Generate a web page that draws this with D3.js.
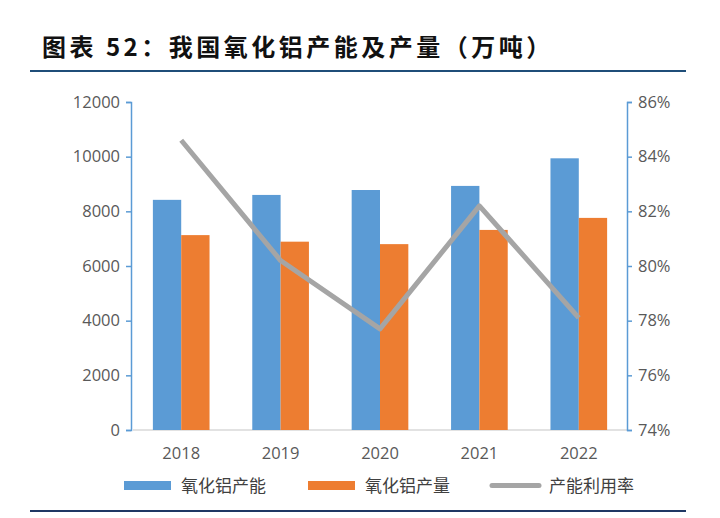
<!DOCTYPE html>
<html><head><meta charset="utf-8">
<script src="https://cdn.jsdelivr.net/npm/d3@7"></script>
<style>body{margin:0;background:#fff}svg{display:block}</style>
</head><body>
<svg id="c" width="720" height="518"></svg>
<script>
const years = ["2018","2019","2020","2021","2022"];
const capacity = [8420, 8600, 8780, 8930, 9940];
const output = [7130, 6890, 6800, 7320, 7760];
const utilization = [84.6, 80.2, 77.7, 82.2, 78.1];
const leftTicks = [0,2000,4000,6000,8000,10000,12000];
const rightTicks = [74,76,78,80,82,84,86];
const seriesNames = ["氧化铝产能","氧化铝产量","产能利用率"];
const colors = ["#5b9bd5","#ed7d31","#a5a5a5"];

const svg = d3.select("#c");
const font = "'Noto Sans CJK SC', 'Noto Sans', sans-serif";
const m = {l:133, r:627, t:102, b:430};

svg.append("text").attr("x",42).attr("y",56).attr("font-family",font)
  .attr("font-weight","bold").attr("font-size",24).attr("letter-spacing",3.5).attr("fill","#111")
  .text("图表 52：我国氧化铝产能及产量（万吨）");
svg.append("line").attr("x1",30).attr("x2",686).attr("y1",71).attr("y2",71)
  .attr("stroke","#1f4e79").attr("stroke-width",2);
svg.append("line").attr("x1",30).attr("x2",686).attr("y1",511).attr("y2",511)
  .attr("stroke","#1f3864").attr("stroke-width",2);

const x = d3.scaleBand().domain(years).range([m.l, m.r]).paddingInner(0.43).paddingOuter(0.2);
const yL = d3.scaleLinear().domain([0,12000]).range([m.b, m.t]);
const yR = d3.scaleLinear().domain([74,86]).range([m.b, m.t]);
const bw = x.bandwidth()/2;

svg.append("line").attr("x1",m.l).attr("x2",m.r).attr("y1",m.b).attr("y2",m.b)
  .attr("stroke","#d9d9d9").attr("stroke-width",1.5);

svg.append("g").selectAll("rect").data(years).join("rect")
  .attr("x",d=>x(d)).attr("width",bw)
  .attr("y",(d,i)=>yL(capacity[i])).attr("height",(d,i)=>m.b-yL(capacity[i]))
  .attr("fill",colors[0]);
svg.append("g").selectAll("rect").data(years).join("rect")
  .attr("x",d=>x(d)+bw).attr("width",bw)
  .attr("y",(d,i)=>yL(output[i])).attr("height",(d,i)=>m.b-yL(output[i]))
  .attr("fill",colors[1]);

const line = d3.line().x((d,i)=>x(years[i])+bw).y(d=>yR(d));
svg.append("path").datum(utilization).attr("d",line).attr("fill","none")
  .attr("stroke",colors[2]).attr("stroke-width",5).attr("stroke-linejoin","round");

const la = svg.append("g").attr("transform",`translate(${m.l-2},0)`)
  .call(d3.axisLeft(yL).tickValues(leftTicks).tickSize(5).tickPadding(6).tickFormat(d3.format("d")));
const ra = svg.append("g").attr("transform",`translate(${m.r},0)`)
  .call(d3.axisRight(yR).tickValues(rightTicks).tickSize(5).tickPadding(6).tickFormat(d=>d+"%"));
[la,ra].forEach(a=>{
  a.selectAll("path,line").attr("stroke","#5b9bd5").attr("stroke-width",1.5);
  a.selectAll("text").attr("font-family","'Open Sans', 'Noto Sans', sans-serif").attr("font-size",16.5).attr("fill","#595959");
});

svg.append("g").selectAll("text").data(years).join("text")
  .attr("x",d=>x(d)+bw).attr("y",459).attr("text-anchor","middle")
  .attr("font-family","'Open Sans', 'Noto Sans', sans-serif").attr("font-size",16.5).attr("fill","#595959")
  .text(d=>d);

const lx = [124, 308, 492];
const lg = svg.append("g");
seriesNames.forEach((n,i)=>{
  if(i<2) lg.append("rect").attr("x",lx[i]).attr("y",481).attr("width",47).attr("height",9).attr("fill",colors[i]);
  else lg.append("line").attr("x1",lx[i]).attr("x2",lx[i]+47).attr("y1",485.5).attr("y2",485.5)
    .attr("stroke",colors[i]).attr("stroke-width",5).attr("stroke-linecap","round");
  lg.append("text").attr("x",lx[i]+57).attr("y",492).attr("font-family",font)
    .attr("font-size",17).attr("fill","#404040").text(n);
});
</script>
</body></html>
